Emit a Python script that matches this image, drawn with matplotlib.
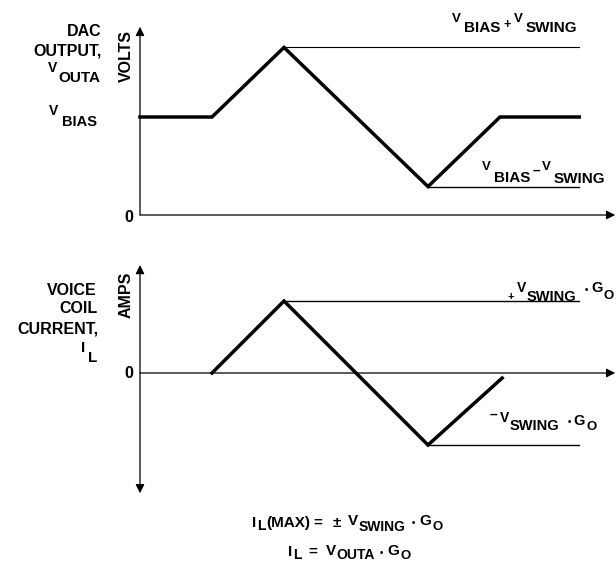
import matplotlib.pyplot as plt

plt.rcParams['font.family'] = ['Liberation Sans', 'DejaVu Sans']

# DAC output waveform (time in arbitrary units, volts relative to V_BIAS = 1)
t_out = [0, 1, 2, 4, 5, 6.1]
v_out = [1.0, 1.0, 1.71, 0.29, 1.0, 1.0]
v_top = 1.71      # V_BIAS + V_SWING
v_bot = 0.29      # V_BIAS - V_SWING

# voice coil current (units of V_SWING * G_O)
t_cur = [1, 2, 4, 5.03]
i_cur = [0.0, 1.0, -1.0, -0.07]
i_top = 1.0
i_bot = -1.0

# reference line spans (time)
t_ref_top = [2, 6.1]
t_ref_bot = [4, 6.1]

t_end = 6.6

W, H = 616, 562
fig = plt.figure(figsize=(W / 100, H / 100), dpi=100)


def rect(left, top, right, bottom):
    return [left / W, 1 - bottom / H, (right - left) / W, (bottom - top) / H]


ax1 = fig.add_axes(rect(140, 20, 616, 225))
ax1.set_xlim(0, 476 / 72)
ax1.set_ylim(-10 / 98, 195 / 98)
ax2 = fig.add_axes(rect(140, 255, 616, 500))
ax2.set_xlim(0, 476 / 72)
ax2.set_ylim(-127 / 72, 118 / 72)
for ax in (ax1, ax2):
    ax.axis('off')

arrow = dict(arrowstyle='-|>', color='black', lw=0.9, mutation_scale=13,
             shrinkA=0, shrinkB=0)
arrow2 = dict(arrowstyle='<|-|>', color='black', lw=0.9, mutation_scale=13,
              shrinkA=0, shrinkB=0)

# top panel
ax1.annotate('', xy=(0, 1.92), xytext=(0, 0), arrowprops=arrow)
ax1.annotate('', xy=(t_end, 0), xytext=(0, 0), arrowprops=arrow)
ax1.plot(t_ref_top, [v_top, v_top], color='black', lw=0.8, clip_on=False)
ax1.plot(t_ref_bot, [v_bot, v_bot], color='black', lw=1.0, clip_on=False)
ax1.plot(t_out, v_out, color='black', lw=2.5, solid_joinstyle='miter',
         clip_on=False)

# bottom panel
ax2.annotate('', xy=(0, 1.5), xytext=(0, -1.67), arrowprops=arrow2)
ax2.annotate('', xy=(t_end, 0), xytext=(0, 0), arrowprops=arrow)
ax2.plot(t_ref_top, [i_top, i_top], color='black', lw=1.0, clip_on=False)
ax2.plot(t_ref_bot, [i_bot, i_bot], color='black', lw=1.0, clip_on=False)
ax2.plot(t_cur, i_cur, color='black', lw=2.5, solid_joinstyle='miter',
         clip_on=False)

# overlay in pixel coordinates for the labels
ax0 = fig.add_axes([0, 0, 1, 1])
ax0.set_xlim(0, W)
ax0.set_ylim(H, 0)
ax0.axis('off')


def chain(x, y, parts, ha='left'):
    """parts: (text, baseline drop in px, fontsize, gap before in px)"""
    if ha == 'left':
        seq = parts
        gaps = [p[3] for p in parts]
    else:
        seq = parts[::-1]
        gaps = [0] + [p[3] for p in parts[::-1]][:-1]
    s, dy, fs, _ = seq[0]
    prev = ax0.text(x, y + dy, s, ha=ha, va='baseline', fontsize=fs,
                    fontweight='bold')
    prev_dy = dy
    for k in range(1, len(seq)):
        s, dy, fs, _ = seq[k]
        anchor = (1, 0) if ha == 'left' else (0, 0)
        off = gaps[k] if ha == 'left' else -gaps[k]
        prev = ax0.annotate(s, xy=anchor, xycoords=prev,
                            xytext=(off, -(dy - prev_dy)),
                            textcoords='offset pixels', ha=ha, va='bottom',
                            fontsize=fs, fontweight='bold')
        prev_dy = dy


bold = dict(fontweight='bold', fontsize=11.5)
ax0.text(101, 36, 'DAC', ha='right', va='baseline', **bold)
ax0.text(102, 55, 'OUTPUT,', ha='right', va='baseline', **bold)
chain(100, 72, [('V', 0, 10, 0), ('OUTA', 10, 11, 1)], ha='right')
chain(97, 115, [('V', 0, 10, 0), ('BIAS', 11, 10.5, 4)], ha='right')
ax0.text(126, 56, 'VOLTS', rotation=90, ha='center', va='center', **bold)
ax0.text(129, 222, '0', ha='center', va='baseline', **bold)

chain(452, 22, [('V', 0, 9.5, 0), ('BIAS', 10, 11, 3), ('+', 6, 9, 3),
                ('V', 0, 9.5, 3), ('SWING', 10, 11, 3)])
chain(482, 170, [('V', 0, 9.5, 0), ('BIAS', 12, 11, 3), ('\u2013', 5, 10, 2),
                 ('V', 0, 9.5, 2), ('SWING', 13, 11, 3)])

ax0.text(97, 295, 'VOICE', ha='right', va='baseline', **bold)
ax0.text(97, 313, 'COIL', ha='right', va='baseline', **bold)
ax0.text(99, 333, 'CURRENT,', ha='right', va='baseline', **bold)
chain(97, 352, [('I', 0, 11, 0), ('L', 10, 11, 3)], ha='right')
ax0.text(126, 295, 'AMPS', rotation=90, ha='center', va='center', **bold)
ax0.text(129, 378, '0', ha='center', va='baseline', **bold)

chain(508, 293, [('+', 7, 8, 0), ('V', 0, 10, 2), ('SWING', 9, 10.5, 1),
                 ('\u2022', 0, 7, 8), ('G', 0, 10.5, 3), ('O', 7, 9.5, 1)])
chain(490, 422, [('\u2013', -3, 10, 0), ('V', 0, 10, 2), ('SWING', 8, 10.5, 1),
                 ('\u2022', 2, 7, 8), ('G', 3, 10.5, 3), ('O', 8, 9.5, 1)])

chain(252, 527, [('I', 0, 11, 0), ('L', 3, 10, 1), ('(MAX)', 0, 11, 1),
                 ('=', 0, 11, 3), ('\u00b1', 0, 11, 10), ('V', -2, 11, 7),
                 ('SWING', 4, 10, 1), ('\u2022', -2, 7, 6),
                 ('G', -2, 11, 4), ('O', 3, 9.5, 1)])
chain(288, 556, [('I', 0, 11, 0), ('L', 3, 10, 1), ('=', 0, 11, 7),
                 ('V', -1, 11, 8), ('OUTA', 3, 10, 1), ('\u2022', -1, 7, 5),
                 ('G', -1, 11, 4), ('O', 3, 9.5, 1)])

fig.savefig('out.png', dpi=100)
